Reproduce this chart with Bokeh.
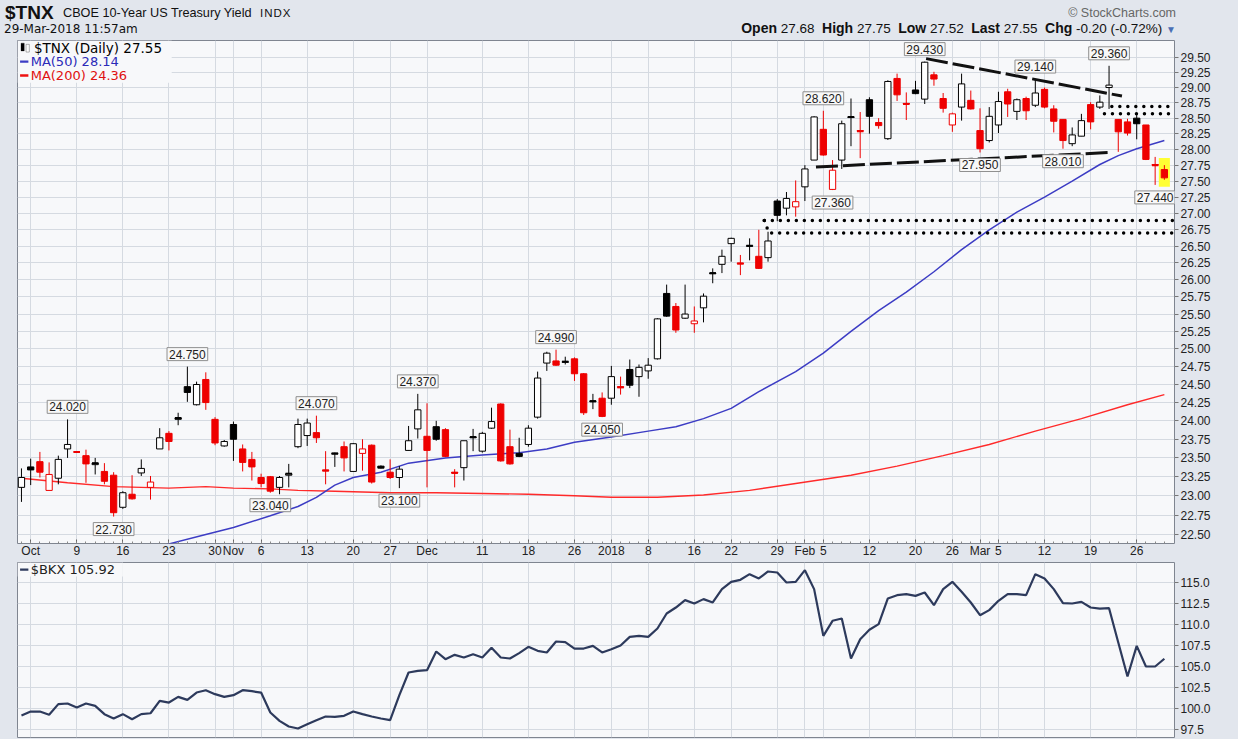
import numpy as np
import pandas as pd
from bokeh.plotting import figure
from bokeh.layouts import column
from bokeh.models import (Range1d, FixedTicker, PrintfTickFormatter, Label, Div,
                          BoxAnnotation, ColumnDataSource, Grid)
from bokeh.core.properties import value
from bokeh.embed import file_html
from bokeh.resources import INLINE

# ---------------- data ----------------
HOLIDAYS = ["2017-11-23", "2017-12-25", "2018-01-01", "2018-01-15", "2018-02-19"]
DATES = [d for d in pd.bdate_range("2017-09-29", "2018-03-29")
         if d.strftime("%Y-%m-%d") not in HOLIDAYS]

OPEN = [23.11, 23.38, 23.45, 23.07, 23.23, 23.62, 23.58, 23.53, 23.41, 23.32,
        23.27, 22.85, 23.02, 23.30, 23.11, 23.62, 23.83, 24.02, 24.47, 24.22,
        24.57, 24.02, 23.66, 23.95, 23.62, 23.48, 23.24, 23.25, 23.11, 23.27,
        23.65, 23.80, 23.84, 23.34, 23.55, 23.65, 23.32, 23.56, 23.67, 23.39,
        23.31, 23.24, 23.60, 23.89, 23.79, 23.92, 23.88, 23.31, 23.37, 23.77,
        23.59, 23.90, 24.23, 23.65, 23.56, 23.68, 24.05, 24.80, 24.83, 24.81,
        24.86, 24.65, 24.26, 24.31, 24.31, 24.47, 24.71, 24.61, 24.69, 24.86,
        25.80, 25.61, 25.44, 25.36, 25.59, 26.09, 26.23, 26.54, 26.25, 26.50,
        26.35, 26.33, 27.19, 27.08, 27.10, 27.41, 27.83, 28.32, 27.37, 27.83,
        28.51, 28.30, 28.80, 28.43, 28.17, 29.15, 28.74, 28.96, 28.81, 29.21,
        28.82, 28.39, 28.68, 28.79, 28.30, 28.14, 28.39, 28.93, 28.61, 28.82,
        28.71, 28.97, 28.65, 28.48, 28.09, 28.21, 28.72, 28.68, 29.00, 28.48,
        28.44, 28.50, 28.39, 27.76, 27.68]
HIGH = [23.36, 23.49, 23.58, 23.44, 23.53, 24.02, 23.58, 23.61, 23.50, 23.43,
        23.31, 23.06, 23.27, 23.48, 23.26, 23.90, 23.86, 24.11, 24.75, 24.54,
        24.67, 24.05, 23.74, 23.99, 23.68, 23.58, 23.29, 23.26, 23.26, 23.42,
        24.03, 24.03, 24.07, 23.59, 23.57, 23.72, 23.70, 23.75, 23.68, 23.40,
        23.48, 23.39, 23.93, 24.37, 24.24, 24.00, 23.90, 23.35, 23.73, 23.89,
        23.85, 24.18, 24.24, 23.88, 23.77, 23.94, 24.68, 24.96, 24.99, 24.89,
        24.88, 24.66, 24.37, 24.39, 24.76, 24.61, 24.85, 24.78, 24.87, 25.44,
        25.93, 25.66, 25.93, 25.61, 25.80, 26.17, 26.45, 26.63, 26.37, 26.62,
        26.75, 26.72, 27.22, 27.33, 27.51, 27.75, 28.53, 28.62, 27.83, 28.46,
        28.82, 28.60, 28.84, 28.50, 29.12, 29.23, 28.92, 29.11, 29.43, 29.26,
        28.91, 28.59, 29.23, 28.95, 28.66, 28.68, 28.93, 28.98, 28.82, 28.85,
        29.14, 29.00, 28.71, 28.48, 28.35, 28.57, 28.76, 28.87, 29.36, 28.48,
        28.49, 28.55, 28.39, 27.88, 27.75]
LOW = [22.92, 23.14, 23.24, 23.07, 23.15, 23.50, 23.58, 23.17, 23.28, 23.15,
       22.73, 22.83, 22.95, 23.26, 22.95, 23.62, 23.60, 23.94, 24.26, 24.21,
       24.15, 23.67, 23.65, 23.46, 23.32, 23.20, 23.11, 23.04, 23.02, 23.11,
       23.63, 23.66, 23.70, 23.15, 23.38, 23.32, 23.32, 23.33, 23.16, 23.36,
       23.22, 23.10, 23.60, 23.76, 23.11, 23.73, 23.51, 23.11, 23.20, 23.59,
       23.57, 23.89, 23.45, 23.41, 23.51, 23.65, 24.03, 24.69, 24.76, 24.78,
       24.55, 24.08, 24.16, 24.05, 24.22, 24.36, 24.45, 24.33, 24.58, 24.85,
       25.46, 25.23, 25.43, 25.23, 25.38, 25.95, 26.10, 26.27, 26.07, 26.29,
       26.16, 26.27, 26.88, 26.97, 26.95, 27.19, 27.83, 27.90, 27.36, 27.69,
       28.05, 27.86, 28.25, 28.33, 28.15, 28.78, 28.47, 28.89, 28.73, 29.03,
       28.59, 28.28, 28.46, 28.64, 27.95, 28.11, 28.26, 28.52, 28.47, 28.47,
       28.68, 28.66, 28.27, 28.01, 28.05, 28.21, 28.32, 28.65, 28.65, 27.96,
       28.22, 28.16, 27.83, 27.44, 27.52]
CLOSE = [23.24, 23.34, 23.31, 23.28, 23.48, 23.68, 23.58, 23.42, 23.43, 23.19,
         22.78, 23.04, 22.96, 23.36, 23.18, 23.77, 23.72, 24.04, 24.39, 24.50,
         24.25, 23.70, 23.72, 23.75, 23.44, 23.38, 23.16, 23.06, 23.24, 23.29,
         23.95, 23.97, 23.77, 23.33, 23.56, 23.50, 23.69, 23.62, 23.18, 23.37,
         23.24, 23.35, 23.73, 24.15, 23.60, 23.75, 23.52, 23.30, 23.73, 23.78,
         23.83, 23.99, 23.46, 23.42, 23.52, 23.90, 24.59, 24.94, 24.77, 24.82,
         24.65, 24.11, 24.27, 24.06, 24.61, 24.46, 24.49, 24.74, 24.77, 25.43,
         25.47, 25.27, 25.50, 25.40, 25.76, 26.10, 26.35, 26.62, 26.24, 26.51,
         26.17, 26.58, 26.97, 27.23, 27.18, 27.69, 28.52, 27.91, 27.67, 28.41,
         28.52, 28.29, 28.53, 28.38, 29.10, 28.88, 28.73, 28.90, 29.42, 29.14,
         28.66, 28.57, 29.06, 28.65, 28.01, 28.53, 28.77, 28.73, 28.80, 28.62,
         28.91, 28.68, 28.45, 28.14, 28.23, 28.46, 28.44, 28.76, 29.04, 28.28,
         28.26, 28.41, 27.84, 27.75, 27.55]

MA50_IDX = [14, 16, 20, 23, 27, 30, 32, 34, 36, 39, 42, 46, 50, 54, 57, 60, 64, 68,
            71, 74, 77, 80, 84, 87, 90, 93, 96, 99, 102, 105, 108, 111, 114, 117,
            119, 121, 124]
MA50 = [22.30, 22.38, 22.50, 22.59, 22.74, 22.86, 22.98, 23.14, 23.24, 23.31, 23.43,
        23.50, 23.54, 23.57, 23.62, 23.71, 23.78, 23.86, 23.92, 24.03, 24.17, 24.40,
        24.68, 24.94, 25.25, 25.55, 25.82, 26.12, 26.45, 26.75, 27.02, 27.25, 27.50,
        27.76, 27.90, 28.01, 28.14]
MA200_IDX = [0, 5, 10, 16, 20, 23, 27, 30, 34, 40, 45, 50, 55, 60, 64, 69, 74, 79,
             84, 90, 95, 100, 105, 110, 115, 120, 124]
MA200 = [23.23, 23.17, 23.12, 23.10, 23.12, 23.10, 23.09, 23.07, 23.06, 23.04, 23.04,
         23.03, 23.02, 23.00, 22.98, 22.98, 23.01, 23.07, 23.16, 23.27, 23.39, 23.53,
         23.68, 23.86, 24.03, 24.22, 24.36]

BKX = [99.17, 99.64, 99.64, 99.25, 100.52, 100.60, 100.12, 100.60, 100.32, 99.33,
       98.81, 99.33, 98.73, 99.33, 99.44, 100.91, 100.71, 101.39, 101.03, 101.90,
       102.18, 101.71, 101.39, 101.59, 102.18, 102.06, 101.90, 99.52, 98.53, 97.86,
       97.62, 98.13, 98.61, 99.05, 99.01, 99.13, 99.64, 99.33, 99.05, 98.81,
       98.61, 101.60, 104.29, 104.48, 104.56, 106.79, 105.87, 106.39, 106.07, 106.47,
       106.07, 107.22, 106.07, 105.95, 106.59, 107.34, 106.87, 106.67, 107.98, 107.90,
       107.14, 107.14, 107.46, 106.67, 107.06, 107.50, 108.53, 108.65, 108.53, 109.52,
       111.31, 112.02, 112.90, 112.50, 113.02, 112.62, 114.21, 115.08, 115.32, 115.99,
       115.48, 116.31, 116.19, 115.00, 115.08, 116.47, 114.21, 108.65, 110.44, 110.71,
       105.95, 108.25, 109.37, 110.04, 113.10, 113.49, 113.61, 113.41, 113.81, 112.30,
       114.21, 115.08, 113.89, 112.62, 111.11, 111.71, 112.82, 113.61, 113.61, 113.49,
       115.99, 115.48, 114.21, 112.54, 112.50, 112.70, 112.02, 111.90, 111.94, 107.86,
       103.81, 107.46, 105.00, 105.00, 105.92]

TICK_IDX = [1, 6, 11, 16, 21, 23, 26, 31, 36, 40, 44, 50, 55, 60, 64, 68, 73, 77, 82,
            85, 87, 92, 97, 101, 104, 106, 111, 116, 121]
TICK_LABELS = ["Oct", "9", "16", "23", "30", "Nov", "6", "13", "20", "27", "Dec", "11",
               "18", "26", "2018", "8", "16", "22", "29", "Feb", "5", "12", "20", "26",
               "Mar", "5", "12", "19", "26"]
Y_TICKS = [22.5 + 0.25 * k for k in range(29)]
BKX_TICKS = [97.5, 100.0, 102.5, 105.0, 107.5, 110.0, 112.5, 115.0]

ANN_IDX = [5, 10, 18, 27, 32, 41, 43, 58, 63, 87, 88, 98, 104, 110, 113, 118, 123]
ANN_SIDE = ["hi", "lo", "hi", "lo", "hi", "lo", "hi", "hi", "lo", "hi", "lo", "hi",
            "lo", "hi", "lo", "hi", "lo"]

TREND_UPPER_X, TREND_UPPER_Y = [98.15, 119.4], [29.48, 28.86]
TREND_LOWER_X, TREND_LOWER_Y = [86.2, 118.1], [27.72, 27.95]
DOT1_X, DOT1_Y = [118.3, 124.5], [28.69, 28.69]
DOT2_X, DOT2_Y = [117.5, 124.5], [28.57, 28.57]
DOT3_X, DOT3_Y = [80.6, 125.0], [26.89, 26.89]
DOT4_X, DOT4_Y = [80.6, 81.1, 125.0], [26.89, 26.70, 26.70]

# ---------------- styling ----------------
W = 1236
OUTER = "#e2e6ed"
PLOT_BG = "#f7f8fa"
GRID = "#d5dae1"
RED = "#ee0000"
FONT = "Liberation Sans"

n = len(CLOSE)
idx = np.arange(n)
O = np.array(OPEN); H = np.array(HIGH); L = np.array(LOW); C = np.array(CLOSE)
prev = np.r_[C[0] - 1.0, C[:-1]]
col = np.where(C >= prev, "#000000", RED)
fill = np.where(C > O, "#ffffff", col)
src = ColumnDataSource(dict(x=idx, lo=L, hi=H, top=np.maximum(O, C), bot=np.minimum(O, C),
                            col=col, fill=fill))
doji = np.abs(O - C) < 0.025
dsrc = ColumnDataSource(dict(x0=idx[doji] - 0.35, x1=idx[doji] + 0.35, y=C[doji], col=col[doji]))

xr = Range1d(-0.43, 125.1)
p1 = figure(width=W, height=520, x_range=xr, y_range=Range1d(22.385, 29.785),
            y_axis_type="log", y_axis_location="right", output_backend="svg",
            toolbar_location=None, min_border_left=17, min_border_right=W - 1174,
            min_border_top=0, min_border_bottom=0)
p1.background_fill_color = PLOT_BG
p1.border_fill_color = OUTER
p1.outline_line_color = "#7f8590"
p1.xgrid.grid_line_color = GRID
p1.ygrid.grid_line_color = GRID

p1.xaxis.ticker = FixedTicker(ticks=TICK_IDX, minor_ticks=list(range(n)))
p1.xaxis.major_label_overrides = {i: t for i, t in zip(TICK_IDX, TICK_LABELS)}
p1.xaxis.axis_line_color = None
p1.xaxis.major_tick_in = 4
p1.xaxis.major_tick_out = 0
p1.xaxis.minor_tick_in = 2
p1.xaxis.minor_tick_out = 0
p1.xaxis.major_tick_line_color = "#666"
p1.xaxis.minor_tick_line_color = "#888"
p1.xaxis.major_label_standoff = 0
p1.xaxis.major_label_text_font = FONT
p1.xaxis.major_label_text_font_size = "12px"
p1.xaxis.major_label_text_color = "#222"

p1.yaxis.ticker = FixedTicker(ticks=Y_TICKS)
p1.yaxis.formatter = PrintfTickFormatter(format="%.2f")
p1.yaxis.axis_line_color = None
p1.yaxis.major_tick_in = 0
p1.yaxis.major_tick_out = 4
p1.yaxis.major_tick_line_color = "#777"
p1.yaxis.minor_tick_line_color = None
p1.yaxis.major_label_standoff = 2
p1.yaxis.major_label_text_font = FONT
p1.yaxis.major_label_text_font_size = "12px"
p1.yaxis.major_label_text_color = "#222"

# legend background
p1.add_layout(BoxAnnotation(left=-0.43, right=16.3, top=29.785, bottom=29.08,
                            fill_color=PLOT_BG, fill_alpha=1, line_color=None,
                            level="underlay"))

# highlight last candle
p1.quad(left=[idx[-1] - 0.6], right=[idx[-1] + 0.6], top=[H[-1] * 1.004],
        bottom=[L[-1] * 0.996], fill_color="#ffff33", line_color=None)

# moving averages
p1.line(MA200_IDX, MA200, line_color="#ff2a2a", line_width=1.4)
p1.line(MA50_IDX, MA50, line_color="#3c3cc4", line_width=1.5)

# candles
p1.segment(x0="x", y0="lo", x1="x", y1="hi", line_color="col", line_width=1, source=src)
p1.vbar(x="x", width=0.68, top="top", bottom="bot", fill_color="fill",
        line_color="col", line_width=1, source=src)
p1.segment(x0="x0", y0="y", x1="x1", y1="y", line_color="col", line_width=2, source=dsrc)

# chartist lines
p1.line(TREND_UPPER_X, TREND_UPPER_Y, line_color="#111", line_width=3, line_dash="22 5")
p1.line(TREND_LOWER_X, TREND_LOWER_Y, line_color="#111", line_width=3, line_dash="22 5")
for dx, dy in [(DOT1_X, DOT1_Y), (DOT2_X, DOT2_Y), (DOT3_X, DOT3_Y), (DOT4_X, DOT4_Y)]:
    p1.line(dx, dy, line_color="#000", line_width=3.5, line_dash="0 8", line_cap="round")

# price callouts
hi_i = [i for i, s in zip(ANN_IDX, ANN_SIDE) if s == "hi"]
lo_i = [i for i, s in zip(ANN_IDX, ANN_SIDE) if s == "lo"]
common = dict(text_font=value(FONT), text_font_size="12px", text_color="#222",
              background_fill_color="#f8f8f8", border_line_color="#8f8f8f", padding=2)
p1.text(x=hi_i, y=[H[i] for i in hi_i], text=["%.3f" % H[i] for i in hi_i],
        anchor="bottom_center", y_offset=-6, **common)
p1.text(x=lo_i, y=[L[i] for i in lo_i], text=["%.3f" % L[i] for i in lo_i],
        anchor="top_center", y_offset=6, **common)

# in-chart legend
p1.add_layout(BoxAnnotation(left=-0.05, right=0.3, top=29.74, bottom=29.61,
                            fill_color="#000", fill_alpha=1, line_color="#000"))
p1.add_layout(BoxAnnotation(left=0.5, right=0.85, top=29.72, bottom=29.59,
                            fill_color="#fff", fill_alpha=1, line_color="#000"))
p1.add_layout(Label(x=1.35, y=29.655, text="$TNX (Daily) 27.55", text_font="DejaVu Sans",
                    text_font_size="13.5px", text_color="#000", text_baseline="middle"))
p1.add_layout(BoxAnnotation(left=-0.15, right=0.75, top=29.45, bottom=29.41,
                            fill_color="#3c3cc4", fill_alpha=1, line_color=None))
p1.add_layout(Label(x=1.0, y=29.433, text="MA(50) 28.14", text_font="DejaVu Sans",
                    text_font_size="13px", text_color="#2a2ab8", text_baseline="middle"))
p1.add_layout(BoxAnnotation(left=-0.15, right=0.75, top=29.22, bottom=29.18,
                            fill_color="#ee1111", fill_alpha=1, line_color=None))
p1.add_layout(Label(x=1.0, y=29.201, text="MA(200) 24.36", text_font="DejaVu Sans",
                    text_font_size="13px", text_color="#e01010", text_baseline="middle"))

# ---------------- lower panel ----------------
p2 = figure(width=W, height=181, x_range=xr, y_range=Range1d(96.55, 117.38),
            x_axis_location=None, y_axis_location="right", output_backend="svg",
            toolbar_location=None, min_border_left=17, min_border_right=W - 1174,
            min_border_top=2, min_border_bottom=4)
p2.background_fill_color = PLOT_BG
p2.border_fill_color = OUTER
p2.outline_line_color = "#7f8590"
if len(p2.xgrid) == 0:
    p2.add_layout(Grid(dimension=0, ticker=FixedTicker(ticks=TICK_IDX), grid_line_color=GRID))
else:
    p2.xgrid.ticker = FixedTicker(ticks=TICK_IDX)
    p2.xgrid.grid_line_color = GRID
p2.ygrid.grid_line_color = GRID
p2.yaxis.ticker = FixedTicker(ticks=BKX_TICKS)
p2.yaxis.formatter = PrintfTickFormatter(format="%.1f")
p2.yaxis.axis_line_color = None
p2.yaxis.major_tick_in = 0
p2.yaxis.major_tick_out = 4
p2.yaxis.major_tick_line_color = "#777"
p2.yaxis.minor_tick_line_color = None
p2.yaxis.major_label_standoff = 2
p2.yaxis.major_label_text_font = FONT
p2.yaxis.major_label_text_font_size = "12px"
p2.yaxis.major_label_text_color = "#222"

p2.add_layout(BoxAnnotation(left=-0.43, right=11.0, top=117.38, bottom=115.7,
                            fill_color=PLOT_BG, fill_alpha=1, line_color=None,
                            level="underlay"))
p2.line(idx, BKX, line_color="#2d3a5c", line_width=2.2)
p2.add_layout(BoxAnnotation(left=-0.15, right=0.75, top=116.68, bottom=116.4,
                            fill_color="#2d3a5c", fill_alpha=1, line_color=None))
p2.add_layout(Label(x=1.0, y=116.55, text="$BKX 105.92", text_font="DejaVu Sans",
                    text_font_size="13px", text_color="#222", text_baseline="middle"))

# ---------------- header ----------------
R = W - 4 - 1175
header_html = (
    '<div style="position:relative;width:%dpx;height:30px;'
    'font-family:\'Liberation Sans\',Arial,sans-serif;color:#111;">'
    '<div style="position:absolute;left:0px;top:-2px;line-height:20px;font-size:19px;'
    'font-weight:bold;white-space:nowrap;">$TNX</div>'
    '<div style="position:absolute;left:58px;top:0px;line-height:16px;font-size:12.7px;'
    'white-space:nowrap;">CBOE 10-Year US Treasury Yield</div>'
    '<div style="position:absolute;left:255px;top:1px;line-height:14px;font-size:11.5px;'
    'letter-spacing:1px;white-space:nowrap;">INDX</div>'
    '<div style="position:absolute;left:-1px;top:17px;line-height:14px;font-size:12px;'
    'font-family:\'DejaVu Sans\',sans-serif;white-space:nowrap;">29-Mar-2018 11:57am</div>'
    '<div style="position:absolute;right:%dpx;top:1px;line-height:14px;font-size:12.5px;'
    'color:#666;white-space:nowrap;">&copy; StockCharts.com</div>'
    '<div style="position:absolute;right:%dpx;top:16px;line-height:15px;font-size:13.5px;'
    'white-space:nowrap;">'
    '<b style="font-size:14px;">Open</b> 27.68&nbsp; <b style="font-size:14px;">High</b> 27.75&nbsp; '
    '<b style="font-size:14px;">Low</b> 27.52&nbsp; <b style="font-size:14px;">Last</b> 27.55&nbsp; '
    '<b style="font-size:14px;">Chg</b> -0.20 (-0.72%%) '
    '<span style="color:#4a6fb5;font-size:10px;">&#9660;</span></div>'
    '</div>' % (W - 8, R, R))
header = Div(text=header_html, width=W - 8, height=30,
             styles={"background-color": OUTER})

layout = column(header, p1, p2, spacing=0, styles={"background-color": OUTER})
open("out.html", "w").write(file_html(layout, INLINE))
